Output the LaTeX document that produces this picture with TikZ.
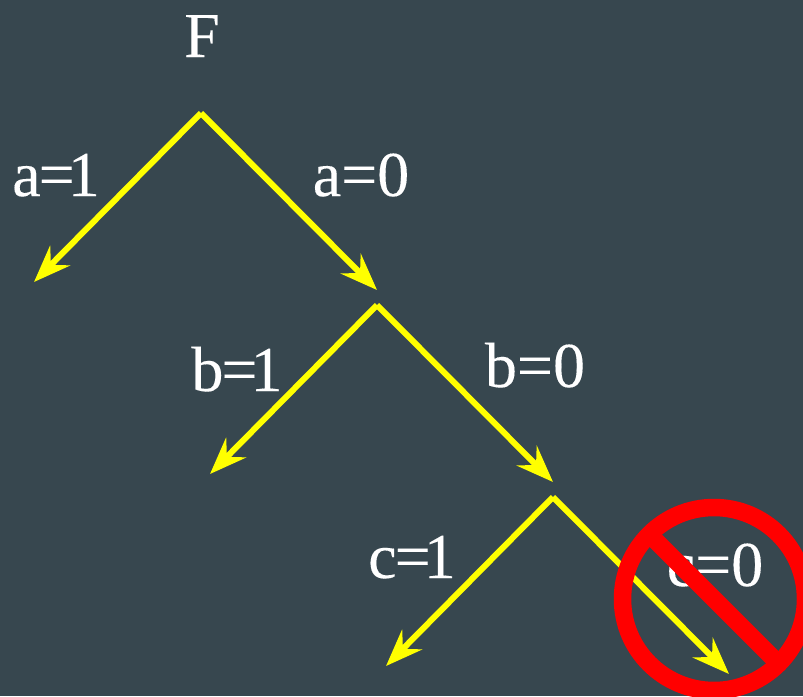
\documentclass[tikz,border=0pt]{standalone}
\usepackage{xcolor}
\usepackage{fontspec}
\setmainfont[FakeBold=0.15]{Liberation Serif}
\usetikzlibrary{arrows.meta}
\definecolor{slatebg}{HTML}{37474F}
\definecolor{branchyellow}{HTML}{FFFF00}
\definecolor{banred}{HTML}{FF0000}
\newcommand{\eqone}{\kern-2pt=\kern-7pt 1}
\tikzset{
  branch/.style={draw=branchyellow, line width=6pt,
    -{Stealth[length=37pt, width=28pt, inset=13pt]}},
  lbl/.style={text=white, inner sep=0pt, anchor=base, font=\fontsize{64}{64}\selectfont},
  ban/.style={draw=banred, line width=17.5pt}
}

\begin{document}
\begin{tikzpicture}[x=1pt, y=-1pt]
  \fill[slatebg] (0,0) rectangle (803,696);
  \useasboundingbox (0,0) rectangle (803,696);

  % split points and loose ends
  \coordinate (f) at (201,113);
  \coordinate (fa1) at (34,282);
  \coordinate (fa0) at (377,290);
  \coordinate (g) at (377,305);
  \coordinate (gb1) at (210,474);
  \coordinate (gb0) at (553,482);
  \coordinate (h) at (553,497);
  \coordinate (hc1) at (386,666);
  \coordinate (hc0) at (729,674);

  \node[lbl] (title) at (202,57) {F};
  \node[lbl] (a1) at (56,196) {a\eqone};
  \node[lbl] (a0) at (361,196) {a=0};
  \node[lbl] (b1) at (237,391) {b\eqone};
  \node[lbl] (b0) at (535,387) {b=0};
  \node[lbl] (c1) at (412,578) {c\eqone};
  \node[lbl] (c0) at (715,586) {c=0};

  \draw[branch] (f) -- (fa1);
  \draw[branch] (f) -- (fa0);
  \draw[branch] (g) -- (gb1);
  \draw[branch] (g) -- (gb0);
  \draw[branch] (h) -- (hc1);
  \draw[branch] (h) -- (hc0);

  % no-entry sign over the last branch
  \coordinate (signc) at (714,599);
  \draw[ban] (signc) circle[radius=91.5];
  \draw[ban] (649,534) -- (779,664);
\end{tikzpicture}
\end{document}
